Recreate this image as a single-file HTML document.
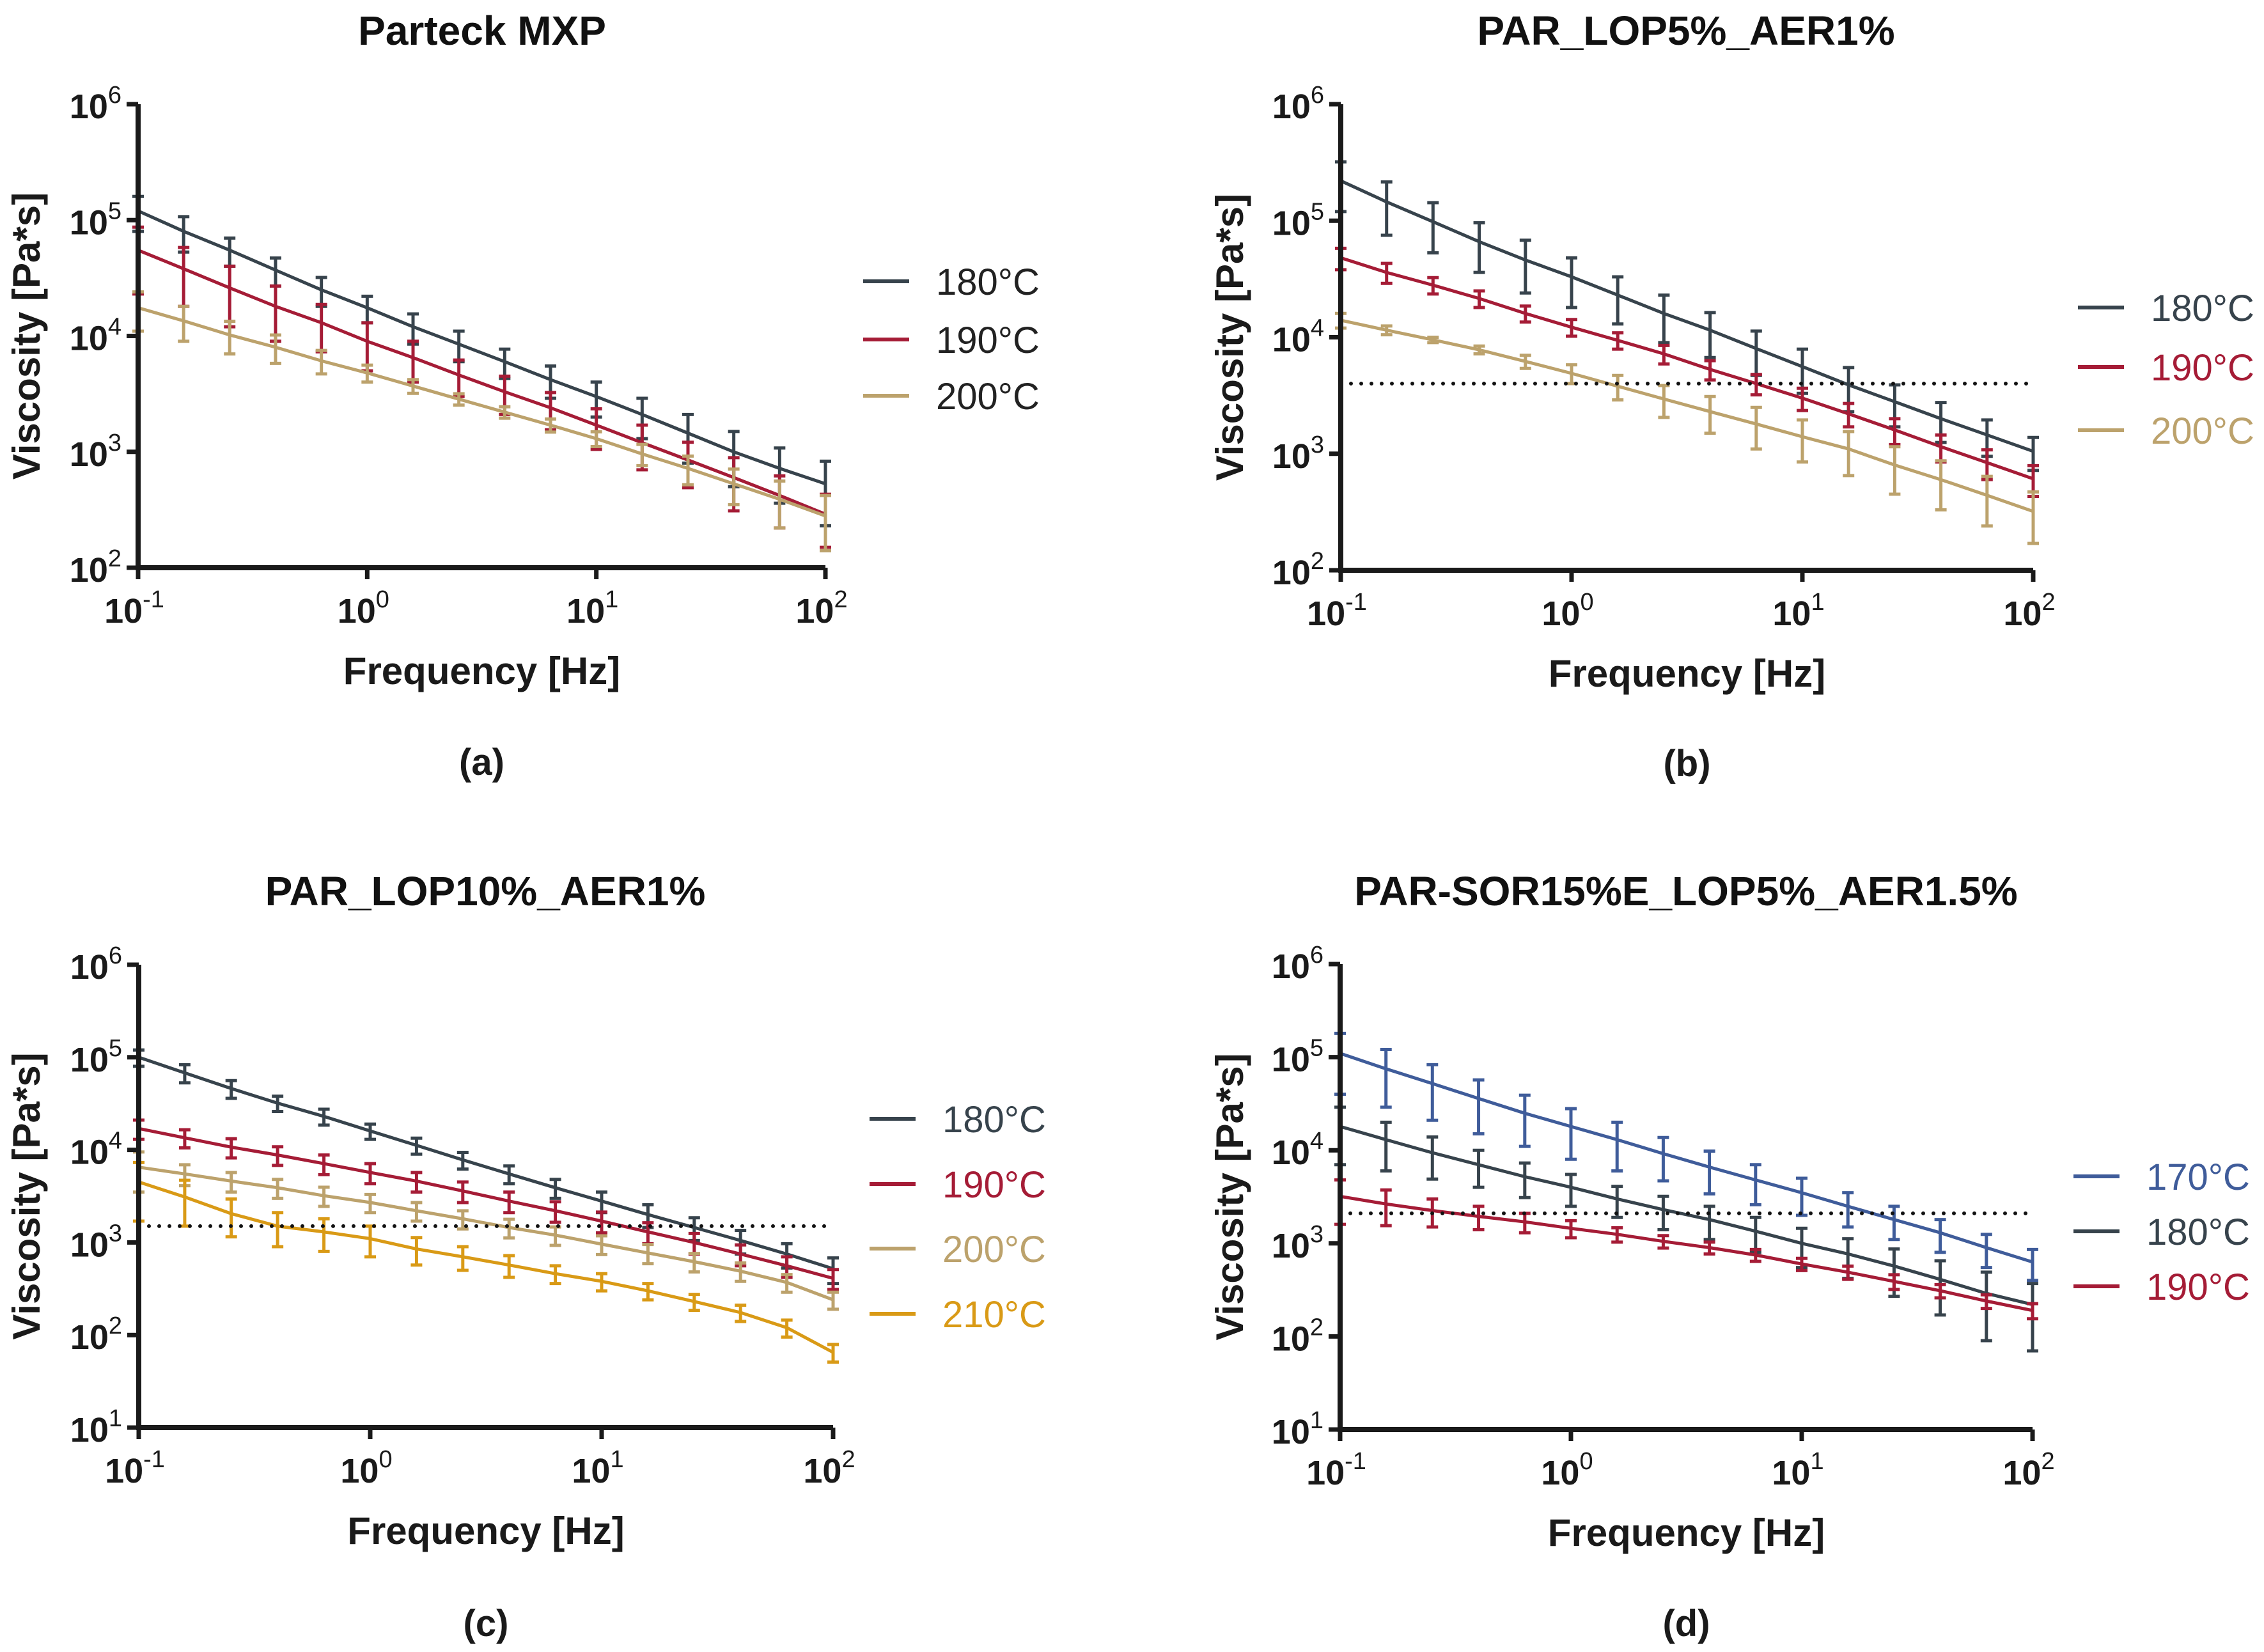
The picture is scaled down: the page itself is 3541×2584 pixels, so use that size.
<!DOCTYPE html>
<html><head><meta charset="utf-8"><style>
html,body{margin:0;padding:0;background:#fff}
svg{display:block}
text{font-family:"Liberation Sans",Arial,sans-serif}
</style></head><body>
<svg id="fig" width="3541" height="2584" viewBox="0 0 3541 2584" xmlns="http://www.w3.org/2000/svg"></svg>
<script>
const freqs=[0.1,0.158,0.251,0.398,0.631,1,1.585,2.512,3.981,6.31,10,15.85,25.12,39.81,63.1,100];
// Panel (a)
const a180=[1.2e5,8e4,5.5e4,3.7e4,2.5e4,1.75e4,1.2e4,8.5e3,6e3,4.2e3,3e3,2.1e3,1.45e3,1e3,7.2e2,5.3e2];
const a180e=[4e4,2.7e4,1.5e4,1e4,7e3,4.5e3,3.5e3,2.5e3,1.7e3,1.3e3,1e3,8e2,6.5e2,5e2,3.6e2,3e2];
const a190=[5.5e4,3.8e4,2.6e4,1.8e4,1.3e4,9e3,6.5e3,4.6e3,3.3e3,2.4e3,1.7e3,1.2e3,8.5e2,6e2,4.2e2,2.9e2];
const a190e=[3.2e4,2e4,1.4e4,9e3,5.7e3,4e3,2.5e3,1.6e3,1.2e3,8.5e2,6.5e2,5e2,3.6e2,2.9e2,2e2,1.4e2];
const a200=[1.75e4,1.35e4,1.02e4,8e3,6.1e3,4.8e3,3.7e3,2.85e3,2.2e3,1.7e3,1.3e3,9.6e2,7.2e2,5.3e2,3.9e2,2.8e2];
const a200e=[6.5e3,4.5e3,3.2e3,2.2e3,1.4e3,8e2,5e2,3.2e2,2.5e2,2.2e2,1.9e2,2e2,2e2,1.8e2,1.7e2,1.4e2];
// Panel (b)
const b180=[2.2e5,1.45e5,9.8e4,6.6e4,4.6e4,3.3e4,2.3e4,1.6e4,1.15e4,8e3,5.6e3,3.9e3,2.8e3,2e3,1.45e3,1.05e3];
const b180e=[1e5,7e4,4.5e4,3e4,2.2e4,1.5e4,1e4,7e3,4.8e3,3.3e3,2.3e3,1.6e3,1.1e3,7.5e2,5e2,3.3e2];
const b190=[4.8e4,3.6e4,2.8e4,2.15e4,1.6e4,1.22e4,9.4e3,7.2e3,5.3e3,4e3,3e3,2.2e3,1.6e3,1.15e3,8.4e2,6.1e2];
const b190e=[1e4,7e3,4.5e3,3.5e3,2.5e3,2e3,1.5e3,1.3e3,1e3,8e2,6.5e2,5e2,4e2,3e2,2.4e2,1.8e2];
const b200=[1.4e4,1.15e4,9.5e3,7.8e3,6.2e3,4.9e3,3.8e3,2.95e3,2.3e3,1.8e3,1.4e3,1.1e3,8e2,6e2,4.4e2,3.2e2];
const b200e=[2e3,1e3,5e2,6e2,8e2,9e2,9e2,9e2,8e2,7e2,5.5e2,4.5e2,3.5e2,2.7e2,2e2,1.5e2];
const bRef=[4000];
// Panel (c)
const c180=[1e5,6.8e4,4.6e4,3.2e4,2.3e4,1.6e4,1.12e4,7.8e3,5.5e3,3.9e3,2.8e3,2e3,1.45e3,1.05e3,7.5e2,5.2e2];
const c180e=[2e4,1.5e4,1e4,6e3,4.5e3,3e3,2.2e3,1.6e3,1.2e3,9e2,7e2,5.5e2,4e2,3e2,2.2e2,1.6e2];
const c190=[1.7e4,1.35e4,1.07e4,8.8e3,7.1e3,5.7e3,4.6e3,3.6e3,2.8e3,2.2e3,1.7e3,1.3e3,1e3,7.5e2,5.6e2,4.1e2];
const c190e=[4e3,3e3,2.5e3,2e3,1.7e3,1.4e3,1.1e3,9e2,7e2,5.5e2,4.3e2,3.3e2,2.5e2,1.9e2,1.4e2,1e2];
const c200=[6.5e3,5.5e3,4.6e3,3.9e3,3.2e3,2.7e3,2.2e3,1.8e3,1.45e3,1.2e3,9.6e2,7.7e2,6.2e2,4.9e2,3.7e2,2.4e2];
const c200e=[3e3,1.4e3,1.1e3,9e2,7.5e2,6e2,5e2,4e2,3.3e2,2.7e2,2.2e2,1.8e2,1.4e2,1.1e2,8e1,5e1];
const c210=[4.5e3,3.1e3,2.05e3,1.5e3,1.3e3,1.1e3,8.5e2,7e2,5.7e2,4.6e2,3.8e2,3e2,2.3e2,1.75e2,1.2e2,6.5e1];
const c210e=[2.8e3,1.6e3,9e2,6e2,5e2,4e2,2.8e2,2e2,1.5e2,1e2,8e1,6e1,4.5e1,3.5e1,2.5e1,1.4e1];
const cRef=[1500];
// Panel (d)
const d170=[1.1e5,7.5e4,5.2e4,3.6e4,2.5e4,1.8e4,1.3e4,9.2e3,6.6e3,4.8e3,3.5e3,2.5e3,1.8e3,1.3e3,9e2,6.3e2];
const d170e=[7e4,4.6e4,3.1e4,2.1e4,1.4e4,1e4,7e3,4.5e3,3.2e3,2.2e3,1.5e3,1e3,7e2,5e2,3.5e2,2.3e2];
const d180=[1.8e4,1.3e4,9.4e3,7e3,5.2e3,4e3,3e3,2.3e3,1.8e3,1.35e3,1e3,7.7e2,5.7e2,4.1e2,2.9e2,2.2e2];
const d180e=[1.1e4,7e3,4.5e3,3e3,2.1e3,1.5e3,1.1e3,9e2,7e2,5.5e2,4.5e2,3.5e2,3e2,2.4e2,2e2,1.5e2];
const d190=[3.2e3,2.65e3,2.25e3,1.95e3,1.7e3,1.45e3,1.25e3,1.05e3,9e2,7.5e2,6e2,4.9e2,3.9e2,3.1e2,2.4e2,1.9e2];
const d190e=[1.6e3,1.1e3,7.5e2,5.5e2,4e2,3e2,2.2e2,1.6e2,1.3e2,1.1e2,9e1,8e1,7e1,5e1,4e1,3.5e1];
const dRef=[2100];

const NS="http://www.w3.org/2000/svg";
const svg=document.getElementById('fig');
function el(tag,attrs,parent,text){const e=document.createElementNS(NS,tag);for(const k in attrs)e.setAttribute(k,attrs[k]);if(text!==undefined)e.textContent=text;(parent||svg).appendChild(e);return e;}

const C={s:'#37434c',r:'#a51c36',t:'#bca26c',o:'#d99a16',b:'#3f5c9a'};

function panel(cfg){
  const g=el('g',{});
  
  
  const {x0,x1,yTop,yBot,dMin,dMax}=cfg;
  const sx=f=>x0+(Math.log10(f)+1)/3*(x1-x0);
  const sy=v=>yBot-(Math.log10(v)-dMin)/(dMax-dMin)*(yBot-yTop);
  const t=el('text',{x:cfg.tx,y:cfg.ty,'text-anchor':'middle','font-size':64,'font-weight':'bold',fill:'#111'},g,cfg.title);
  
  
  cfg.series.forEach((s,si)=>{
    const sg=el('g',{},g);
    
    
    s.vals.forEach((v,i)=>{
      const x=sx(freqs[i]);const up=v+s.err[i];const lo=Math.max(v-s.err[i],Math.pow(10,dMin)*1.05);
      const e=el('path',{d:`M${x} ${sy(up)}V${sy(lo)}M${x-9} ${sy(up)}h18M${x-9} ${sy(lo)}h18`,stroke:s.color,'stroke-width':5,fill:'none'},sg);
      
      
    });
    const pts=s.vals.map((v,i)=>sx(freqs[i]).toFixed(1)+','+sy(v).toFixed(1)).join(' ');
    const ln=el('polyline',{points:pts,fill:'none',stroke:s.color,'stroke-width':5},sg);
    
    
    const ly=cfg.ly[si];
    const ll=el('line',{x1:cfg.lx,x2:cfg.lx+72,y1:ly,y2:ly,stroke:s.color,'stroke-width':6},g);
    
    
    const lt=el('text',{x:cfg.lx+114,y:ly+21,'font-size':58,fill:cfg.legendColored?s.color:'#222'},g,s.label);
    
    
  });
  if(cfg.ref){
    const r=el('line',{x1:x0,x2:x1,y1:sy(cfg.ref[0]),y2:sy(cfg.ref[0]),stroke:'#111','stroke-width':6,'stroke-dasharray':'0 16','stroke-linecap':'round'},g);
    
    
  }
  const ax=el('path',{d:`M${x0} ${yTop}V${yBot}H${x1}`,stroke:'#1a1a1a','stroke-width':8,fill:'none'},g);
  
  
  for(let d=dMin;d<=dMax;d++){
    const y=sy(Math.pow(10,d));
    el('line',{x1:x0-18,x2:x0,y1:y,y2:y,stroke:'#1a1a1a','stroke-width':7},g);
    const tl=el('text',{x:x0-26,y:y+22,'text-anchor':'end','font-size':54,'font-weight':'bold',fill:'#1a1a1a'},g);
    
    
    el('tspan',{},tl,'10');el('tspan',{dy:-24,'font-size':38,'font-weight':'normal'},tl,String(d));
  }
  for(let d=-1;d<=2;d++){
    const x=sx(Math.pow(10,d));
    el('line',{x1:x,x2:x,y1:yBot,y2:yBot+18,stroke:'#1a1a1a','stroke-width':7},g);
    const tl=el('text',{x:x-6,y:yBot+86,'text-anchor':'middle','font-size':54,'font-weight':'bold',fill:'#1a1a1a'},g);
    
    
    el('tspan',{},tl,'10');el('tspan',{dy:-24,'font-size':38,'font-weight':'normal'},tl,String(d));
  }
  const xt=el('text',{x:(x0+x1)/2,y:yBot+182,'text-anchor':'middle','font-size':60,'font-weight':'bold',fill:'#1a1a1a'},g,'Frequency [Hz]');
  
  
  const yc=(yTop+yBot)/2;
  const yt=el('text',{x:cfg.yx,y:yc,'text-anchor':'middle','font-size':60,'font-weight':'bold',fill:'#1a1a1a',transform:`rotate(-90 ${cfg.yx} ${yc})`},g,'Viscosity [Pa*s]');
  
  
  const pl=el('text',{x:(x0+x1)/2,y:cfg.py,'text-anchor':'middle','font-size':58,'font-weight':'bold',fill:'#1a1a1a'},g,cfg.plabel);
  
  
}

panel({name:'panel-a',title:'Parteck MXP',tx:754,ty:70,x0:216,x1:1291,yTop:163,yBot:888,dMin:2,dMax:6,yx:62,py:1212,plabel:'(a)',
  lx:1350,ly:[440,531,619],legendColored:false,
  series:[{label:'180°C',vals:a180,err:a180e,color:C.s},{label:'190°C',vals:a190,err:a190e,color:C.r},{label:'200°C',vals:a200,err:a200e,color:C.t}]});
panel({name:'panel-b',title:'PAR_LOP5%_AER1%',tx:2637,ty:70,x0:2097,x1:3180,yTop:163,yBot:892,dMin:2,dMax:6,yx:1944,py:1214,plabel:'(b)',
  lx:3250,ly:[481,574,673],legendColored:true,ref:bRef,
  series:[{label:'180°C',vals:b180,err:b180e,color:C.s},{label:'190°C',vals:b190,err:b190e,color:C.r},{label:'200°C',vals:b200,err:b200e,color:C.t}]});
panel({name:'panel-c',title:'PAR_LOP10%_AER1%',tx:759,ty:1416,x0:217,x1:1303,yTop:1509,yBot:2233,dMin:1,dMax:6,yx:62,py:2559,plabel:'(c)',
  lx:1360,ly:[1750,1852,1953,2055],legendColored:true,ref:cRef,
  series:[{label:'180°C',vals:c180,err:c180e,color:C.s},{label:'190°C',vals:c190,err:c190e,color:C.r},{label:'200°C',vals:c200,err:c200e,color:C.t},{label:'210°C',vals:c210,err:c210e,color:C.o}]});
panel({name:'panel-d',title:'PAR-SOR15%E_LOP5%_AER1.5%',tx:2637,ty:1416,x0:2096,x1:3179,yTop:1508,yBot:2236,dMin:1,dMax:6,yx:1944,py:2559,plabel:'(d)',
  lx:3243,ly:[1840,1926,2012],legendColored:true,ref:dRef,
  series:[{label:'170°C',vals:d170,err:d170e,color:C.b},{label:'180°C',vals:d180,err:d180e,color:C.s},{label:'190°C',vals:d190,err:d190e,color:C.r}]});
</script>
</body></html>
